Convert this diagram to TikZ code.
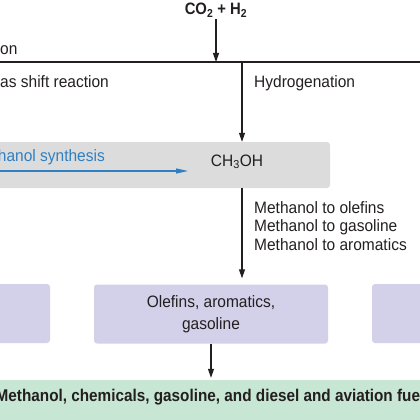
\documentclass[tikz,border=0pt]{standalone}
\usepackage{fontspec}
\setmainfont[FakeStretch=0.94]{Liberation Sans}
\newfontfamily\headfont[FakeStretch=0.9]{Liberation Sans}
\usetikzlibrary{arrows.meta}
\definecolor{ink}{HTML}{231F20}
\definecolor{greybg}{HTML}{DCDCDC}
\definecolor{lilac}{HTML}{D3D1EA}
\definecolor{mint}{HTML}{C7E6D3}
\definecolor{synblue}{HTML}{2F7FC1}
\tikzset{
	flow/.style={draw=ink, line width=1.1pt, -{Triangle[length=9pt,width=6pt]}},
	synth/.style={draw=synblue, line width=1.1pt, -{Triangle[length=12pt,width=5pt]}},
	lbl/.style={inner sep=0pt, text=ink, font=\fontsize{16.5}{18.5}\selectfont},
	headlbl/.style={inner sep=0pt, text=ink, font=\headfont\fontsize{17}{18.5}\selectfont\bfseries},
	panel/.style={rounded corners=3pt, inner sep=0pt},
}
\begin{document}
\begin{tikzpicture}[x=1pt,y=-1pt]
	\useasboundingbox (0,0) rectangle (420,420);
	\clip (0,0) rectangle (420,420);
	\def\xin{216} \def\xsplit{242}
	\def\yline{62}
	% boxes
	\node[panel, fill=greybg, minimum width=340pt, minimum height=46pt] (mbox) at (160,165) {};
	\node[panel, fill=lilac, minimum width=150pt, minimum height=59pt] (leftbox) at (-25,313.5) {};
	\node[panel, fill=lilac, minimum width=234pt, minimum height=59pt, align=center, lbl,
		font=\fontsize{16.5}{21.5}\selectfont, inner sep=0pt] (olef) at (211,314) {Olefins, aromatics,\\gasoline};
	\node[panel, fill=lilac, minimum width=148pt, minimum height=59pt] (rightbox) at (446,313.5) {};
	\node[panel, fill=mint, minimum width=460pt, minimum height=60pt] (out) at (210,410) {};
	% texts
	\node[headlbl, font=\headfont\fontsize{16.5}{18}\selectfont\bfseries, anchor=base] (co2) at (\xin,14.5) {CO\textsubscript{2} + H\textsubscript{2}};
	\node[lbl, anchor=base west] (gasif) at (0,55) {on};
	\node[lbl, anchor=base west] (shift) at (0,87) {as shift reaction};
	\node[lbl, anchor=base west] (hydro) at (254,87) {Hydrogenation};
	\node[lbl, text=synblue, anchor=base east] (msyn) at (105,161) {hanol synthesis};
	\node[lbl, anchor=base] (meoh) at (237,166) {CH\textsubscript{3}OH};
	\node[lbl, anchor=base west] (mto) at (254,213) {Methanol to olefins};
	\node[lbl, anchor=base west] (mtg) at (254,231.5) {Methanol to gasoline};
	\node[lbl, anchor=base west] (mta) at (254,250) {Methanol to aromatics};
	\node[headlbl, anchor=base] (fuels) at (210,401)
	{Methanol, chemicals, gasoline, and diesel and aviation fuel};
	% connectors
	\coordinate (lineL) at (-5,\yline);
	\coordinate (lineR) at (425,\yline);
	\coordinate (join) at (\xin,\yline);
	\coordinate (split) at (\xsplit,\yline);
	\coordinate (bstart) at (-5,171);
	\coordinate (btip) at (188,171);
	\draw[draw=ink, line width=1.1pt] (lineL) -- (lineR);
	\draw[flow, shorten <=2pt] (co2.south) -- (join);
	\draw[flow] (split) -- (split |- mbox.north);
	\draw[flow, shorten >=6pt] (split |- mbox.south) -- (split |- olef.north);
	\draw[flow, shorten >=2pt] (olef.south) -- (olef.south |- out.north);
	\draw[synth] (bstart) -- (btip);
\end{tikzpicture}
\end{document}
